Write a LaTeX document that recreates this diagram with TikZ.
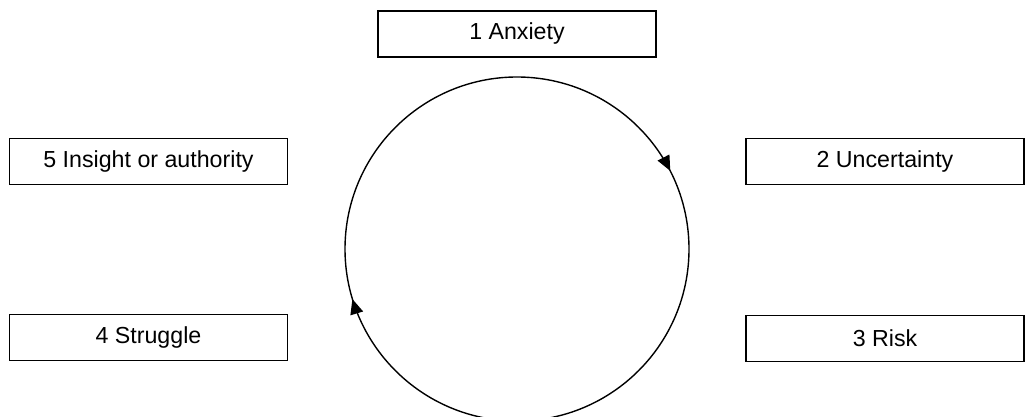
\documentclass[tikz,border=0pt]{standalone}
\usepackage{fontspec}
\setmainfont{Liberation Sans}
\usetikzlibrary{arrows.meta, decorations.markings}

\begin{document}
\begin{tikzpicture}[
    x=0.5pt, y=-0.5pt,
    font=\fontsize{11.6}{13}\selectfont,
    stagenode/.style={rectangle, draw=black, line width=0.6pt, text centered, minimum width=139pt, minimum height=23pt, inner sep=2pt},
    cyclearrow/.style={decoration={markings,
        mark=at position 0.175 with {\arrow{Triangle[length=7.5pt,width=6.5pt]}},
        mark=at position 0.703 with {\arrow{Triangle[length=7.5pt,width=6.5pt]}}},
        postaction={decorate}}
  ]
  \useasboundingbox (0,0) rectangle (1029,417);

  % Stages
  \node[stagenode] (anxiety) at (517,34) {1 Anxiety};
  \node[stagenode] (uncertainty) at (885,161.5) {2 Uncertainty};
  \node[stagenode] (risk) at (885,338.5) {3 Risk};
  \node[stagenode] (struggle) at (148.5,337.5) {4 Struggle};
  \node[stagenode] (insight) at (148.5,161.5) {5 Insight or authority};

  % Cycle
  \coordinate (hub) at (517,249);
  \draw[line width=0.7pt, cyclearrow] (hub) ++(0,-172) arc[start angle=90, end angle=-270, radius=86pt];

\end{tikzpicture}
\end{document}
